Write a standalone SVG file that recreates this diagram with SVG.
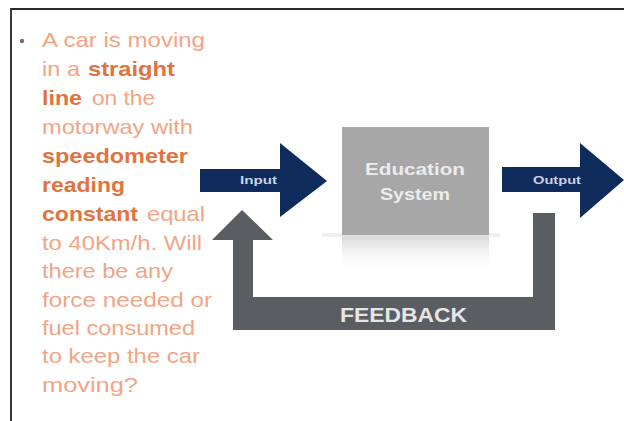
<svg xmlns="http://www.w3.org/2000/svg" width="624" height="421" viewBox="0 0 624 421">
<defs>
<style>
.t{font-family:"Liberation Sans",Arial,sans-serif;font-size:21px;}
.n{fill:#f2a484;}
.b{fill:#e2733f;font-weight:bold;}
.arr{fill:#0e2b5c;}
.lbl{font-family:"Liberation Sans",Arial,sans-serif;font-weight:bold;}
</style>
<linearGradient id="refl" x1="0" y1="0" x2="0" y2="1">
<stop offset="0" stop-color="#d6d6d6"/>
<stop offset="1" stop-color="#ffffff" stop-opacity="0"/>
</linearGradient>
</defs>
<rect width="624" height="421" fill="#ffffff"/>
<g id="frame">
<line x1="10" y1="9" x2="624" y2="9" stroke="#2a2a2a" stroke-width="2"/>
<line x1="11" y1="8" x2="11" y2="421" stroke="#3a3a3a" stroke-width="2"/>
</g>
<g id="question">
<circle cx="22" cy="41" r="2.2" fill="#8a6a5a"/>
<text class="t n" x="42" y="47" textLength="163" lengthAdjust="spacingAndGlyphs">A car is moving</text>
<text class="t n" x="42" y="76" textLength="38" lengthAdjust="spacingAndGlyphs">in a</text>
<text class="t b" x="88" y="76" textLength="87" lengthAdjust="spacingAndGlyphs">straight</text>
<text class="t b" x="42" y="105" textLength="40" lengthAdjust="spacingAndGlyphs">line</text>
<text class="t n" x="92" y="105" textLength="63" lengthAdjust="spacingAndGlyphs">on the</text>
<text class="t n" x="42" y="134" textLength="151" lengthAdjust="spacingAndGlyphs">motorway with</text>
<text class="t b" x="42" y="163" textLength="146" lengthAdjust="spacingAndGlyphs">speedometer</text>
<text class="t b" x="42" y="192" textLength="83" lengthAdjust="spacingAndGlyphs">reading</text>
<text class="t b" x="42" y="221" textLength="96" lengthAdjust="spacingAndGlyphs">constant</text>
<text class="t n" x="147" y="221" textLength="58" lengthAdjust="spacingAndGlyphs">equal</text>
<text class="t n" x="42" y="250" textLength="160" lengthAdjust="spacingAndGlyphs">to 40Km/h. Will</text>
<text class="t n" x="42" y="278" textLength="131" lengthAdjust="spacingAndGlyphs">there be any</text>
<text class="t n" x="42" y="307" textLength="170" lengthAdjust="spacingAndGlyphs">force needed or</text>
<text class="t n" x="42" y="335" textLength="153" lengthAdjust="spacingAndGlyphs">fuel consumed</text>
<text class="t n" x="42" y="363" textLength="158" lengthAdjust="spacingAndGlyphs">to keep the car</text>
<text class="t n" x="42" y="392" textLength="96" lengthAdjust="spacingAndGlyphs">moving?</text>
</g>
<g id="education-system">
<rect x="342" y="235" width="147" height="38" fill="url(#refl)"/>
<rect x="322" y="233" width="178" height="4" fill="#e4e4e4" opacity="0.6"/>
<rect x="342" y="127" width="147" height="108" fill="#a7a7a7"/>
<text class="lbl" x="365" y="175" font-size="17" fill="#ececec" textLength="100" lengthAdjust="spacingAndGlyphs">Education</text>
<text class="lbl" x="380" y="200" font-size="17" fill="#ececec" textLength="70" lengthAdjust="spacingAndGlyphs">System</text>
</g>
<g id="connectors">
<g id="input-arrow">
<polygon class="arr" points="200,169 280,169 280,143 327,181 280,217 280,192 200,192"/>
<text class="lbl" x="240" y="184" font-size="10" fill="#c9d2e4" textLength="37" lengthAdjust="spacingAndGlyphs">Input</text>
</g>
<g id="output-arrow">
<polygon class="arr" points="502,167 580,167 580,143 624,180 580,218 580,192 502,192"/>
<text class="lbl" x="533" y="184" font-size="10" fill="#c9d2e4" textLength="48" lengthAdjust="spacingAndGlyphs">Output</text>
</g>
<g id="feedback">
<polygon fill="#5a5d62" points="533,213 555,213 555,330 233,330 233,240 212,240 242,210 273,240 253,240 253,297 533,297"/>
<text class="lbl" x="340" y="322" font-size="21" fill="#e6e6e6" textLength="127" lengthAdjust="spacingAndGlyphs">FEEDBACK</text>
</g>
</g>
</svg>
